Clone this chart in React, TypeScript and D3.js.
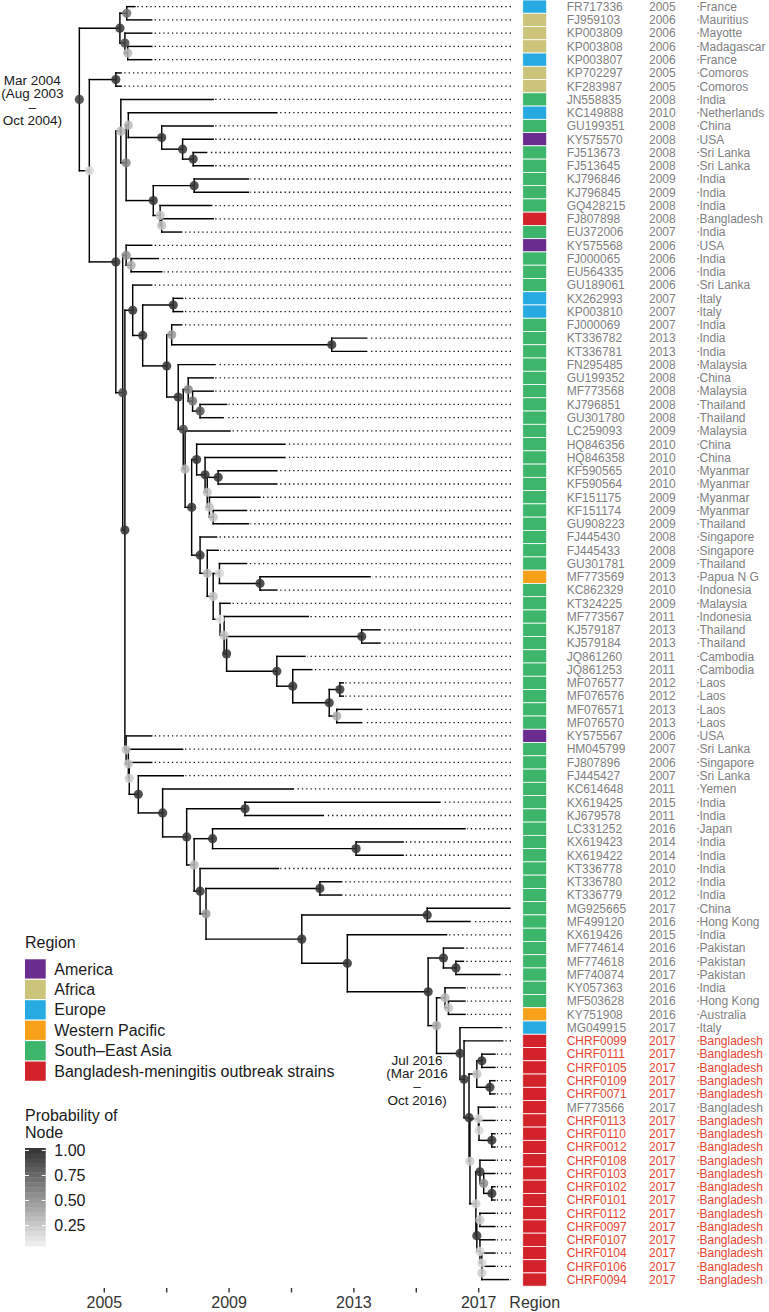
import React from "react";
import * as d3 from "d3";

// ---------- data ----------
const regionNames = ["America", "Africa", "Europe", "Western Pacific", "South-East Asia", "Bangladesh"];
const regionLegendLabels = ["America", "Africa", "Europe", "Western Pacific", "South–East Asia", "Bangladesh-meningitis outbreak strains"];
const regionColors = ["#6A2C8F", "#CCC47B", "#27AAE1", "#F7A11A", "#3DB66B", "#D2232A"];

const xTicks = [2005, 2007, 2009, 2011, 2013, 2015, 2017];
const xTickLabels = ["2005", "", "2009", "", "2013", "", "2017"];
const probTicks = [0.25, 0.5, 0.75, 1.0];
const probTickLabels = ["0.25", "0.50", "0.75", "1.00"];
const probLimits = [0.07, 1.0];

// [accession, year, country, region, tip date (decimal year)]
type Tip = [string, number, string, string, number];
const tips: Tip[] = [
  ["FR717336", 2005, "France", "Europe", 2005.98],
  ["FJ959103", 2006, "Mauritius", "Africa", 2006.52],
  ["KP003809", 2006, "Mayotte", "Africa", 2006.52],
  ["KP003808", 2006, "Madagascar", "Africa", 2006.52],
  ["KP003807", 2006, "France", "Europe", 2006.52],
  ["KP702297", 2005, "Comoros", "Africa", 2005.54],
  ["KF283987", 2005, "Comoros", "Africa", 2005.54],
  ["JN558835", 2008, "India", "South-East Asia", 2008.49],
  ["KC149888", 2010, "Netherlands", "Europe", 2010.53],
  ["GU199351", 2008, "China", "South-East Asia", 2008.49],
  ["KY575570", 2008, "USA", "America", 2008.49],
  ["FJ513673", 2008, "Sri Lanka", "South-East Asia", 2008.28],
  ["FJ513645", 2008, "Sri Lanka", "South-East Asia", 2008.49],
  ["KJ796846", 2009, "India", "South-East Asia", 2009.62],
  ["KJ796845", 2009, "India", "South-East Asia", 2009.62],
  ["GQ428215", 2008, "India", "South-East Asia", 2008.44],
  ["FJ807898", 2008, "Bangladesh", "Bangladesh", 2008.49],
  ["EU372006", 2007, "India", "South-East Asia", 2007.48],
  ["KY575568", 2006, "USA", "America", 2006.52],
  ["FJ000065", 2006, "India", "South-East Asia", 2006.73],
  ["EU564335", 2006, "India", "South-East Asia", 2006.84],
  ["GU189061", 2006, "Sri Lanka", "South-East Asia", 2006.52],
  ["KX262993", 2007, "Italy", "Europe", 2007.51],
  ["KP003810", 2007, "Italy", "Europe", 2007.51],
  ["FJ000069", 2007, "India", "South-East Asia", 2007.48],
  ["KT336782", 2013, "India", "South-East Asia", 2013.41],
  ["KT336781", 2013, "India", "South-East Asia", 2013.41],
  ["FN295485", 2008, "Malaysia", "South-East Asia", 2008.55],
  ["GU199352", 2008, "China", "South-East Asia", 2008.49],
  ["MF773568", 2008, "Malaysia", "South-East Asia", 2008.49],
  ["KJ796851", 2008, "Thailand", "South-East Asia", 2008.92],
  ["GU301780", 2008, "Thailand", "South-East Asia", 2008.81],
  ["LC259093", 2009, "Malaysia", "South-East Asia", 2009.03],
  ["HQ846356", 2010, "China", "South-East Asia", 2010.79],
  ["HQ846358", 2010, "China", "South-East Asia", 2010.79],
  ["KF590565", 2010, "Myanmar", "South-East Asia", 2010.53],
  ["KF590564", 2010, "Myanmar", "South-East Asia", 2010.53],
  ["KF151175", 2009, "Myanmar", "South-East Asia", 2009.99],
  ["KF151174", 2009, "Myanmar", "South-East Asia", 2009.56],
  ["GU908223", 2009, "Thailand", "South-East Asia", 2009.62],
  ["FJ445430", 2008, "Singapore", "South-East Asia", 2008.6],
  ["FJ445433", 2008, "Singapore", "South-East Asia", 2008.65],
  ["GU301781", 2009, "Thailand", "South-East Asia", 2009.56],
  ["MF773569", 2013, "Papua N G", "Western Pacific", 2013.52],
  ["KC862329", 2010, "Indonesia", "South-East Asia", 2010.53],
  ["KT324225", 2009, "Malaysia", "South-East Asia", 2009.03],
  ["MF773567", 2011, "Indonesia", "South-East Asia", 2011.54],
  ["KJ579187", 2013, "Thailand", "South-East Asia", 2013.84],
  ["KJ579184", 2013, "Thailand", "South-East Asia", 2013.84],
  ["JQ861260", 2011, "Cambodia", "South-East Asia", 2011.43],
  ["JQ861253", 2011, "Cambodia", "South-East Asia", 2011.65],
  ["MF076577", 2012, "Laos", "South-East Asia", 2012.66],
  ["MF076576", 2012, "Laos", "South-East Asia", 2012.66],
  ["MF076571", 2013, "Laos", "South-East Asia", 2013.25],
  ["MF076570", 2013, "Laos", "South-East Asia", 2013.25],
  ["KY575567", 2006, "USA", "America", 2006.52],
  ["HM045799", 2007, "Sri Lanka", "South-East Asia", 2007.51],
  ["FJ807896", 2006, "Singapore", "South-East Asia", 2006.52],
  ["FJ445427", 2007, "Sri Lanka", "South-East Asia", 2007.53],
  ["KC614648", 2011, "Yemen", "South-East Asia", 2011.06],
  ["KX619425", 2015, "India", "South-East Asia", 2015.76],
  ["KJ679578", 2011, "India", "South-East Asia", 2012.02],
  ["LC331252", 2016, "Japan", "South-East Asia", 2016.56],
  ["KX619423", 2014, "India", "South-East Asia", 2014.58],
  ["KX619422", 2014, "India", "South-East Asia", 2014.58],
  ["KT336778", 2010, "India", "South-East Asia", 2010.58],
  ["KT336780", 2012, "India", "South-East Asia", 2012.61],
  ["KT336779", 2012, "India", "South-East Asia", 2012.61],
  ["MG925665", 2017, "China", "South-East Asia", 2018.0],
  ["MF499120", 2016, "Hong Kong", "South-East Asia", 2016.72],
  ["KX619426", 2015, "India", "South-East Asia", 2015.97],
  ["MF774614", 2016, "Pakistan", "South-East Asia", 2016.51],
  ["MF774618", 2016, "Pakistan", "South-East Asia", 2016.51],
  ["MF740874", 2017, "Pakistan", "South-East Asia", 2017.68],
  ["KY057363", 2016, "India", "South-East Asia", 2016.56],
  ["MF503628", 2016, "Hong Kong", "South-East Asia", 2016.56],
  ["KY751908", 2016, "Australia", "Western Pacific", 2016.56],
  ["MG049915", 2017, "Italy", "Europe", 2017.74],
  ["CHRF0099", 2017, "Bangladesh", "Bangladesh", 2017.77],
  ["CHRF0111", 2017, "Bangladesh", "Bangladesh", 2017.52],
  ["CHRF0105", 2017, "Bangladesh", "Bangladesh", 2017.52],
  ["CHRF0109", 2017, "Bangladesh", "Bangladesh", 2017.52],
  ["CHRF0071", 2017, "Bangladesh", "Bangladesh", 2017.52],
  ["MF773566", 2017, "Bangladesh", "Bangladesh", 2017.52],
  ["CHRF0113", 2017, "Bangladesh", "Bangladesh", 2017.52],
  ["CHRF0110", 2017, "Bangladesh", "Bangladesh", 2017.52],
  ["CHRF0012", 2017, "Bangladesh", "Bangladesh", 2017.52],
  ["CHRF0108", 2017, "Bangladesh", "Bangladesh", 2017.52],
  ["CHRF0103", 2017, "Bangladesh", "Bangladesh", 2017.52],
  ["CHRF0102", 2017, "Bangladesh", "Bangladesh", 2017.52],
  ["CHRF0101", 2017, "Bangladesh", "Bangladesh", 2017.52],
  ["CHRF0112", 2017, "Bangladesh", "Bangladesh", 2017.52],
  ["CHRF0097", 2017, "Bangladesh", "Bangladesh", 2017.52],
  ["CHRF0107", 2017, "Bangladesh", "Bangladesh", 2017.52],
  ["CHRF0104", 2017, "Bangladesh", "Bangladesh", 2017.52],
  ["CHRF0106", 2017, "Bangladesh", "Bangladesh", 2017.52],
  ["CHRF0094", 2017, "Bangladesh", "Bangladesh", 2017.95],
];

// [node, child 1, child 2, node date (decimal year), posterior probability]
type TreeNode = [string, string, string, number, number];
const nodes: TreeNode[] = [
  ["root", "nA", "nF", 2004.2, 0.95],
  ["nA", "nB", "nC", 2005.5, 1],
  ["nB", "FR717336", "FJ959103", 2005.72, 0.7],
  ["nC", "KP003809", "nD", 2005.66, 0.9],
  ["nD", "KP003808", "KP003807", 2005.75, 0.35],
  ["nF", "nE", "nG", 2004.52, 0.2],
  ["nE", "KP702297", "KF283987", 2005.37, 1],
  ["nG", "nJ", "nK", 2005.37, 1],
  ["nJ", "JN558835", "nI", 2005.53, 0.35],
  ["nI", "nH", "nI2", 2005.7, 0.6],
  ["nH", "KC149888", "nH1", 2005.77, 0.35],
  ["nH1", "GU199351", "nH2", 2006.84, 1],
  ["nH2", "KY575570", "nH3", 2007.51, 1],
  ["nH3", "FJ513673", "FJ513645", 2007.85, 1],
  ["nI2", "nI3", "nI4", 2006.57, 1],
  ["nI3", "KJ796846", "KJ796845", 2007.88, 1],
  ["nI4", "GQ428215", "nI5", 2006.79, 0.3],
  ["nI5", "FJ807898", "EU372006", 2006.84, 0.3],
  ["nK", "nSS", "nL", 2005.59, 0.9],
  ["nSS", "KY575568", "nS2", 2005.7, 0.55],
  ["nS2", "FJ000065", "EU564335", 2005.86, 0.4],
  ["nL", "nRR", "nUU", 2005.66, 1],
  ["nRR", "GU189061", "nR1", 2005.91, 1],
  ["nR1", "nR2", "nR", 2006.23, 1],
  ["nR2", "KX262993", "KP003810", 2007.21, 1],
  ["nR", "nR3", "nP", 2007.0, 1],
  ["nR3", "FJ000069", "nR4", 2007.16, 0.5],
  ["nR4", "KT336782", "KT336781", 2012.29, 1],
  ["nP", "FN295485", "nQ", 2007.37, 1],
  ["nQ", "nM", "nN", 2007.53, 0.9],
  ["nM", "GU199352", "nM2", 2007.69, 0.6],
  ["nM2", "MF773568", "nM3", 2007.83, 0.7],
  ["nM3", "KJ796851", "GU301780", 2008.07, 0.85],
  ["nN", "LC259093", "nAA", 2007.59, 0.35],
  ["nAA", "nZ", "nBB", 2007.8, 1],
  ["nZ", "HQ846356", "nY", 2007.96, 1],
  ["nY", "HQ846358", "nX", 2008.23, 1],
  ["nX", "nU", "nW", 2008.3, 0.3],
  ["nU", "KF590565", "KF590564", 2008.65, 1],
  ["nW", "KF151175", "nV", 2008.37, 0.3],
  ["nV", "KF151174", "GU908223", 2008.49, 0.3],
  ["nBB", "FJ445430", "nCC", 2008.07, 1],
  ["nCC", "FJ445433", "nDD", 2008.3, 0.35],
  ["nDD", "nEE", "nGG", 2008.49, 0.3],
  ["nEE", "GU301781", "nFF", 2008.69, 0.2],
  ["nFF", "MF773569", "KC862329", 2009.99, 1],
  ["nGG", "KT324225", "nHH", 2008.71, 0.1],
  ["nHH", "MF773567", "nII", 2008.84, 0.3],
  ["nII", "nJJ", "nKK", 2008.92, 1],
  ["nJJ", "KJ579187", "KJ579184", 2013.25, 1],
  ["nKK", "JQ861260", "nLL", 2010.53, 1],
  ["nLL", "JQ861253", "nMM", 2011.04, 1],
  ["nMM", "nNN", "nOO", 2012.21, 1],
  ["nNN", "MF076577", "MF076576", 2012.55, 1],
  ["nOO", "MF076571", "MF076570", 2012.45, 0.4],
  ["nUU", "KY575567", "nVV", 2005.7, 0.3],
  ["nVV", "HM045799", "nWW", 2005.77, 0.3],
  ["nWW", "FJ807896", "nXX", 2005.8, 0.25],
  ["nXX", "FJ445427", "nYY", 2006.09, 1],
  ["nYY", "KC614648", "nZZ", 2006.87, 1],
  ["nZZ", "nA1", "nB1", 2007.64, 1],
  ["nA1", "KX619425", "KJ679578", 2009.51, 1],
  ["nB1", "nC1", "nE1", 2007.88, 0.35],
  ["nC1", "LC331252", "nD1", 2008.47, 1],
  ["nD1", "KX619423", "KX619422", 2013.07, 1],
  ["nE1", "KT336778", "nH1b", 2008.07, 1],
  ["nH1b", "nG1", "nI1", 2008.26, 0.5],
  ["nG1", "KT336780", "KT336779", 2011.91, 1],
  ["nI1", "nJ1", "nK1", 2011.33, 1],
  ["nJ1", "MG925665", "MF499120", 2015.35, 1],
  ["nK1", "KX619426", "nL1", 2012.79, 1],
  ["nL1", "nM1", "nN1", 2015.38, 1],
  ["nM1", "MF774614", "nM1b", 2015.87, 1],
  ["nM1b", "MF774618", "MF740874", 2016.27, 1],
  ["nN1", "nO1", "nP1", 2015.65, 0.4],
  ["nO1", "KY057363", "nQ1", 2015.92, 0.35],
  ["nQ1", "MF503628", "KY751908", 2016.03, 0.3],
  ["nP1", "MG049915", "nR1b", 2016.4, 1],
  ["nR1b", "CHRF0099", "nS1", 2016.53, 1],
  ["nS1", "nT1", "nV1", 2016.69, 1],
  ["nT1", "nT1a", "nT1b", 2016.94, 0.3],
  ["nT1a", "CHRF0111", "CHRF0105", 2017.1, 1],
  ["nT1b", "CHRF0109", "CHRF0071", 2017.36, 1],
  ["nV1", "nW1", "nX1", 2016.72, 0.25],
  ["nW1", "MF773566", "nW1b", 2016.99, 0.2],
  ["nW1b", "CHRF0113", "nW1c", 2017.01, 0.2],
  ["nW1c", "CHRF0110", "CHRF0012", 2017.42, 1],
  ["nX1", "nY1", "nZ1", 2016.91, 0.25],
  ["nY1", "CHRF0108", "nY1a", 2017.04, 1],
  ["nY1a", "CHRF0103", "nY1b", 2017.16, 0.55],
  ["nY1b", "CHRF0102", "CHRF0101", 2017.42, 1],
  ["nZ1", "nZ1a", "nZ1b", 2016.94, 1],
  ["nZ1a", "CHRF0112", "CHRF0097", 2017.04, 0.25],
  ["nZ1b", "CHRF0107", "nZ1c", 2017.04, 0.2],
  ["nZ1c", "CHRF0104", "nZ1d", 2017.1, 0.2],
  ["nZ1d", "CHRF0106", "CHRF0094", 2017.1, 0.25],
];

const annotationNodes = ["root", "nR1b"];
const annotationLines = [
  ["Mar 2004", "(Aug 2003", "–", "Oct 2004)"],
  ["Jul 2016", "(Mar 2016", "–", "Oct 2016)"],
];

// ---------- chart ----------
const FONT = "'Liberation Sans', Arial, Helvetica, sans-serif";

export default function App() {
  const W = 769;
  const H = 1312;

  const x = d3.scaleLinear().domain([2005, 2017]).range([104.3, 478.7]);
  const band = d3
    .scaleBand<number>()
    .domain(d3.range(tips.length))
    .range([0, 1286.2])
    .padding(0);
  const bw = band.bandwidth();

  const tipIndex = new Map<string, number>(tips.map((t, i) => [t[0], i]));
  const nodeMap = new Map<string, TreeNode>(nodes.map((n) => [n[0], n]));

  const yMemo = new Map<string, number>();
  const yOf = (name: string): number => {
    if (yMemo.has(name)) return yMemo.get(name)!;
    let v: number;
    if (tipIndex.has(name)) v = (band(tipIndex.get(name)!) as number) + bw / 2;
    else {
      const n = nodeMap.get(name)!;
      v = (yOf(n[1]) + yOf(n[2])) / 2;
    }
    yMemo.set(name, v);
    return v;
  };
  const xOf = (name: string): number => {
    if (tipIndex.has(name)) return x(tips[tipIndex.get(name)!][4]);
    return x(nodeMap.get(name)![3]);
  };

  const probColor = d3
    .scaleLinear<string>()
    .domain(probLimits)
    .range(["#F2F2F2", "#333333"])
    .clamp(true);

  const regionColor = d3.scaleOrdinal<string, string>().domain(regionNames).range(regionColors);

  const dotEnd = 511;
  const barX = 522.7;
  const barW = 24;
  const accX = 566.7;
  const yearX = 649;
  const countryX = 699.5;

  // tree segments
  const segs: { x1: number; y1: number; x2: number; y2: number }[] = [];
  nodes.forEach((n) => {
    const nx = xOf(n[0]);
    const y1 = yOf(n[1]);
    const y2 = yOf(n[2]);
    segs.push({ x1: nx, y1, x2: nx, y2 });
    [n[1], n[2]].forEach((c) => {
      segs.push({ x1: nx, y1: yOf(c), x2: xOf(c), y2: yOf(c) });
    });
  });

  // legend: region
  const legX = 25;
  const legKeyTop = 959.3;
  const legStep = 20.45;

  // legend: probability colour bar
  const cbTop = 1148;
  const cbBottom = 1246;
  const nbin = 20;
  const binH = (cbBottom - cbTop) / nbin;
  const cbPos = d3
    .scaleLinear()
    .domain(probLimits)
    .range([cbBottom - binH / 2, cbTop + binH / 2]);
  const bins = d3.range(nbin).map((i) => {
    const v = probLimits[0] + ((i + 0.5) / nbin) * (probLimits[1] - probLimits[0]);
    return { y: cbBottom - (i + 1) * binH, v };
  });

  const axisY = 1288;

  return (
    <svg
      width={W}
      height={H}
      viewBox={`0 0 ${W} ${H}`}
      style={{ position: "absolute", left: 0, top: 0, background: "#fff" }}
      fontFamily={FONT}
    >
      <rect x={0} y={0} width={W} height={H} fill="#fff" />

      {/* dotted leader lines */}
      <g stroke="#111" strokeWidth={1.3} strokeDasharray="1.3 3.03" fill="none">
        {tips.map((t) => {
          const y = yOf(t[0]);
          const tx = x(t[4]);
          if (tx >= dotEnd - 2) return null;
          return <line key={t[0]} x1={dotEnd} y1={y} x2={tx + 2} y2={y} />;
        })}
      </g>

      {/* tree branches */}
      <g stroke="#000" strokeWidth={1.45} strokeLinecap="square" fill="none">
        {segs.map((s, i) => (
          <line key={i} x1={s.x1} y1={s.y1} x2={s.x2} y2={s.y2} />
        ))}
      </g>

      {/* node probability circles */}
      <g>
        {nodes.map((n) => (
          <circle
            key={n[0]}
            cx={xOf(n[0])}
            cy={yOf(n[0])}
            r={4.6}
            fill={probColor(n[4])}
            fillOpacity={0.85}
          />
        ))}
      </g>

      {/* node date annotations */}
      {annotationNodes.map((nm, k) => {
        const cx = xOf(nm) - 47;
        const cy = yOf(nm) - 19;
        return (
          <text key={nm} textAnchor="middle" fontSize={13.5} fill="#1a1a1a">
            {annotationLines[k].map((l, j) => (
              <tspan key={j} x={cx} y={cy + j * 13.2} dy="0.35em">
                {l}
              </tspan>
            ))}
          </text>
        );
      })}

      {/* region column */}
      <g>
        {tips.map((t, i) => (
          <rect
            key={t[0]}
            x={barX}
            y={band(i)}
            width={barW}
            height={bw}
            fill={regionColor(t[3])}
            stroke="#fff"
            strokeWidth={0.8}
          />
        ))}
      </g>

      {/* tip labels */}
      <g fontSize={12}>
        {tips.map((t) => {
          const y = yOf(t[0]);
          const col = t[0].startsWith("CHRF") ? "#E8452F" : "#7F7F7F";
          return (
            <g key={t[0]} fill={col}>
              <text x={accX} y={y} dy="0.36em">
                {t[0]}
              </text>
              <text x={yearX} y={y} dy="0.36em">
                {t[1]}
              </text>
              <line x1={countryX - 2.2} x2={countryX - 0.4} y1={y} y2={y} stroke={col} strokeWidth={1} />
              <text x={countryX} y={y} dy="0.36em">
                {t[2]}
              </text>
            </g>
          );
        })}
      </g>

      {/* x axis */}
      <g>
        {xTicks.map((v, i) => (
          <g key={v}>
            <line x1={x(v)} x2={x(v)} y1={axisY} y2={axisY + 4.5} stroke="#333" strokeWidth={1.4} />
            {xTickLabels[i] && (
              <text x={x(v)} y={axisY + 14} dy="0.35em" textAnchor="middle" fontSize={16} fill="#333">
                {xTickLabels[i]}
              </text>
            )}
          </g>
        ))}
        <text x={barX + barW / 2} y={axisY + 14} dy="0.35em" textAnchor="middle" fontSize={16} fill="#333">
          Region
        </text>
      </g>

      {/* region legend */}
      <g>
        <text x={legX} y={948.3} fontSize={16} fill="#1a1a1a">
          Region
        </text>
        {regionNames.map((r, i) => (
          <g key={r}>
            <rect
              x={legX}
              y={legKeyTop + i * legStep}
              width={20.7}
              height={legStep - 1.2}
              fill={regionColor(r)}
            />
            <text
              x={54.3}
              y={legKeyTop + i * legStep + (legStep - 1.2) / 2}
              dy="0.35em"
              fontSize={16}
              fill="#1a1a1a"
            >
              {regionLegendLabels[i]}
            </text>
          </g>
        ))}
      </g>

      {/* probability legend */}
      <g>
        <text x={legX} y={1120.7} fontSize={16} fill="#1a1a1a">
          Probability of
        </text>
        <text x={legX} y={1138.3} fontSize={16} fill="#1a1a1a">
          Node
        </text>
        {bins.map((b, i) => (
          <rect key={i} x={legX} y={b.y} width={20.7} height={binH + 0.3} fill={probColor(b.v)} />
        ))}
        {probTicks.map((v, i) => (
          <g key={v}>
            <line x1={legX} x2={legX + 4} y1={cbPos(v)} y2={cbPos(v)} stroke="#fff" strokeWidth={1} />
            <line x1={legX + 16.7} x2={legX + 20.7} y1={cbPos(v)} y2={cbPos(v)} stroke="#fff" strokeWidth={1} />
            <text x={54.3} y={cbPos(v)} dy="0.35em" fontSize={16} fill="#1a1a1a">
              {probTickLabels[i]}
            </text>
          </g>
        ))}
      </g>
    </svg>
  );
}
